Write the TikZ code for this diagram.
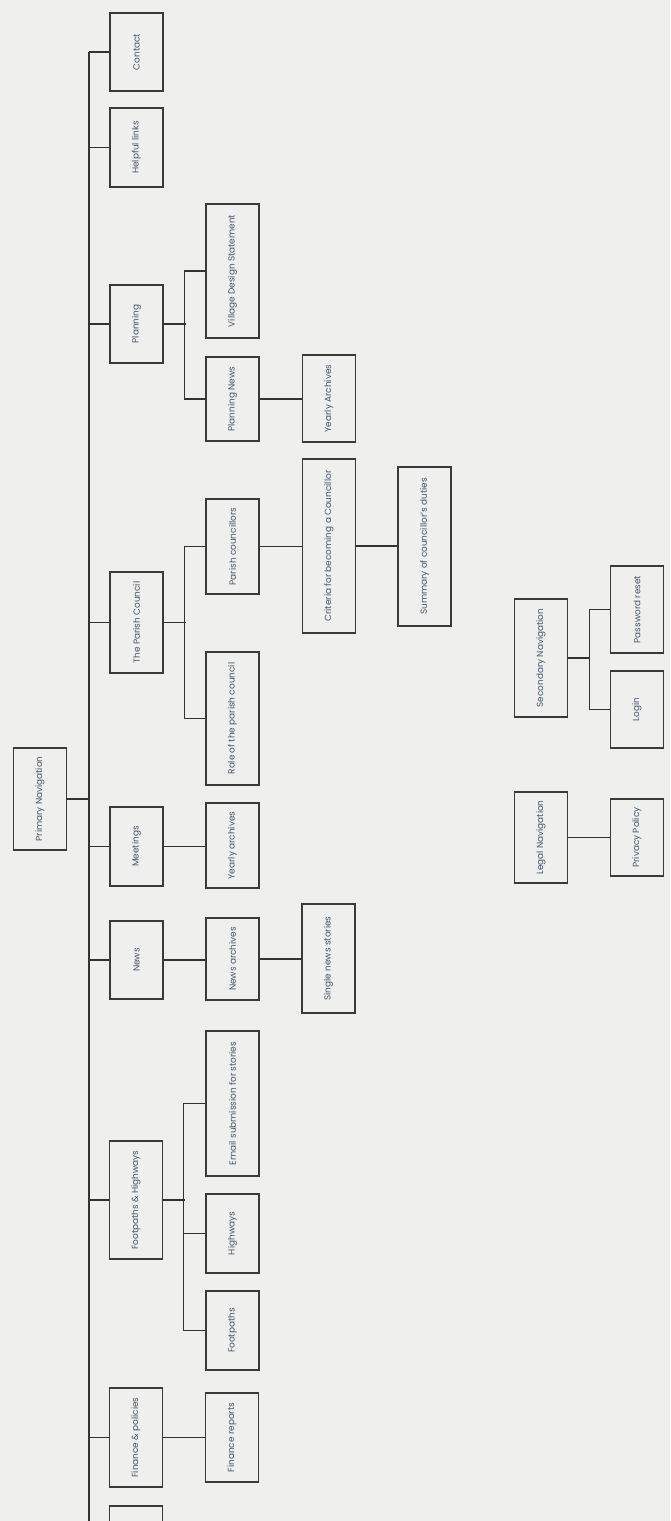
\documentclass[tikz,border=0pt]{standalone}
\usepackage{fontspec}
\setmainfont{Poppins}
\usepackage{graphicx}
\definecolor{bgc}{HTML}{EFEFEE}
\definecolor{boxc}{HTML}{3A3A3A}
\definecolor{linec}{HTML}{333333}
\definecolor{txtc}{HTML}{44566A}
\begin{document}
\begin{tikzpicture}[x=1pt,y=-1pt,
  box/.style={draw=boxc, line width=1.5pt, rectangle, inner sep=0pt, minimum width=53pt,
    font=\fontsize{8.9}{10}\selectfont, text=txtc},
  conn/.style={draw=linec, line width=1.1pt}]
\fill[bgc] (0,0) rectangle (670,1521);
\useasboundingbox (0,0) rectangle (670,1521);
\begin{scope}
\clip (0,0) rectangle (670,1521);
% Level 0
\node[box, minimum height=102pt] (primary) at (40,799) {\rotatebox{90}{Primary Navigation}};
% Level 1
\node[box, minimum height=78pt] (contact) at (136.5,52) {\rotatebox{90}{Contact}};
\node[box, minimum height=79pt] (helpful) at (136.5,147.5) {\rotatebox{90}{Helpful links}};
\node[box, minimum height=78pt] (planning) at (136.5,324) {\rotatebox{90}{Planning}};
\node[box, minimum height=101pt] (tpc) at (136.5,622.5) {\rotatebox{90}{The Parish Council}};
\node[box, minimum height=79pt] (meetings) at (136.5,846.5) {\rotatebox{90}{Meetings}};
\node[box, minimum height=78pt] (news) at (136.5,960) {\rotatebox{90}{News}};
\node[box, minimum height=118pt] (fh) at (136,1200) {\rotatebox{90}{Footpaths \& Highways}};
\node[box, minimum height=99pt] (finance) at (136,1437.5) {\rotatebox{90}{Finance \& policies}};
\node[box, minimum height=80pt] (lastbox) at (136,1546) {};
% Level 2
\node[box, minimum height=134pt] (vds) at (232.5,271) {\rotatebox{90}{Village Design Statement}};
\node[box, minimum height=84pt] (pnews) at (232.5,399) {\rotatebox{90}{Planning News}};
\node[box, minimum height=95pt] (pcs) at (232.5,546.5) {\rotatebox{90}{Parish councillors}};
\node[box, minimum height=133pt] (role) at (232.5,718.5) {\rotatebox{90}{Role of the parish council}};
\node[box, minimum height=85pt] (yarchm) at (232.5,845.5) {\rotatebox{90}{Yearly archives}};
\node[box, minimum height=82pt] (narch) at (232.5,959) {\rotatebox{90}{News archives}};
\node[box, minimum height=145pt] (email) at (232.5,1103.5) {\rotatebox{90}{Email submission for stories}};
\node[box, minimum height=79pt] (highways) at (232.5,1233.5) {\rotatebox{90}{Highways}};
\node[box, minimum height=79pt] (footpaths) at (232.5,1330.5) {\rotatebox{90}{Footpaths}};
\node[box, minimum height=89pt] (freports) at (232,1437.5) {\rotatebox{90}{Finance reports}};
% Level 3
\node[box, minimum height=87pt] (yarchp) at (329,398.5) {\rotatebox{90}{Yearly Archives}};
\node[box, minimum height=174pt] (criteria) at (329,546) {\rotatebox{90}{Criteria for becoming a Councillor}};
\node[box, minimum height=109pt] (single) at (328.5,958.5) {\rotatebox{90}{Single news stories}};
% Level 4
\node[box, minimum height=159pt] (summary) at (424.5,546.5) {\rotatebox{90}{Summary of councillor's duties}};
% Secondary / Legal
\node[box, minimum height=118pt] (secnav) at (541,658) {\rotatebox{90}{Secondary Navigation}};
\node[box, minimum height=87pt] (pwreset) at (637,609.5) {\rotatebox{90}{Password reset}};
\node[box, minimum height=77pt] (login) at (637,709.5) {\rotatebox{90}{Login}};
\node[box, minimum height=91pt] (legal) at (541,837.5) {\rotatebox{90}{Legal Navigation}};
\node[box, minimum height=77pt] (privacy) at (637,837.5) {\rotatebox{90}{Privacy Policy}};
% Spine
\coordinate (spinetop) at (89,52);
\coordinate (spinebot) at (89,1530);
\draw[conn] (spinetop) -- (spinebot);
\draw[conn] (primary.east) -- (primary.east -| spinetop);
\foreach \n in {contact,helpful,planning,tpc,meetings,news,fh,finance}
  \draw[conn] (\n.west) -- (\n.west -| spinetop);
% Planning
\draw[conn] (planning.east) -- ++(22,0);
\draw[conn] (vds.west) -- ++(-21,0) |- (pnews.west);
\draw[conn] (pnews.east) -- (pnews.east -| yarchp.west);
% Parish council
\draw[conn] (tpc.east) -- ++(22,0);
\draw[conn] (pcs.west) -- ++(-21,0) |- (role.west);
\draw[conn] (pcs.east) -- (pcs.east -| criteria.west);
\draw[conn] (criteria.east) -- (criteria.east -| summary.west);
% Meetings, News
\draw[conn] (meetings.east) -- (meetings.east -| yarchm.west);
\draw[conn] (news.east) -- (news.east -| narch.west);
\draw[conn] (narch.east) -- (narch.east -| single.west);
% Footpaths & Highways
\draw[conn] (fh.east) -- ++(22,0);
\draw[conn] (email.west) -- ++(-22,0) |- (footpaths.west);
\draw[conn] (highways.west) -- ++(-22,0);
% Finance
\draw[conn] (finance.east) -- (finance.east -| freports.west);
% Secondary / Legal
\draw[conn] (secnav.east) -- ++(22,0);
\draw[conn] (pwreset.west) -- ++(-20,0) |- (login.west);
\draw[conn] (legal.east) -- (legal.east -| privacy.west);
\end{scope}
\end{tikzpicture}
\end{document}
